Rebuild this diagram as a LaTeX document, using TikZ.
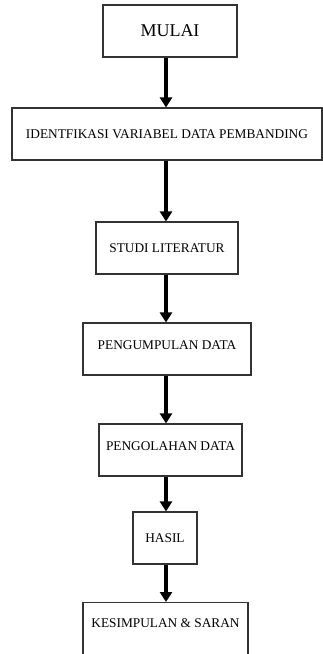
\documentclass[tikz,border=0pt]{standalone}
\usepackage{fontspec}
\setmainfont{Liberation Serif}
\usetikzlibrary{arrows.meta}
\tikzset{
  box/.style={draw=black!80, line width=0.8pt, rectangle, minimum height=39pt, inner sep=0pt, font=\fontsize{10}{12}\selectfont, fill=white},
  arr/.style={line width=3pt, -{Triangle[width=9pt,length=7.5pt]}, shorten <=0.4pt},
  lowtext/.style={text depth=6pt}
}
\begin{document}
\begin{tikzpicture}[x=0.75pt,y=-0.75pt]
\useasboundingbox[fill=white] (0,0) rectangle (323,654);
\clip (0,0) rectangle (323,654);
\coordinate (ax) at (166,0);
\node[box, minimum width=100.5pt, font=\fontsize{13.5}{15}\selectfont] (b1) at (170,31) {MULAI};
\node[box, minimum width=232.5pt] (b2) at (167,134) {IDENTFIKASI VARIABEL DATA PEMBANDING};
\node[box, minimum width=106.5pt] (b3) at (167,248) {STUDI LITERATUR};
\node[box, minimum width=126pt, lowtext] (b4) at (167,349) {PENGUMPULAN DATA};
\node[box, minimum width=107.25pt, lowtext] (b5) at (170.5,450) {PENGOLAHAN DATA};
\node[box, minimum width=48pt] (b6) at (165,538) {HASIL};
\node[box, minimum width=123.75pt, minimum height=0pt, anchor=north, text height=19pt, text depth=60pt] (b7) at (165.5,602) {KESIMPULAN \& SARAN};
\draw[arr] (b1.south -| ax) -- (b2.north -| ax);
\draw[arr] (b2.south -| ax) -- (b3.north -| ax);
\draw[arr] (b3.south -| ax) -- (b4.north -| ax);
\draw[arr] (b4.south -| ax) -- (b5.north -| ax);
\draw[arr] (b5.south -| ax) -- (b6.north -| ax);
\draw[arr] (b6.south -| ax) -- (b7.north -| ax);
\end{tikzpicture}
\end{document}
